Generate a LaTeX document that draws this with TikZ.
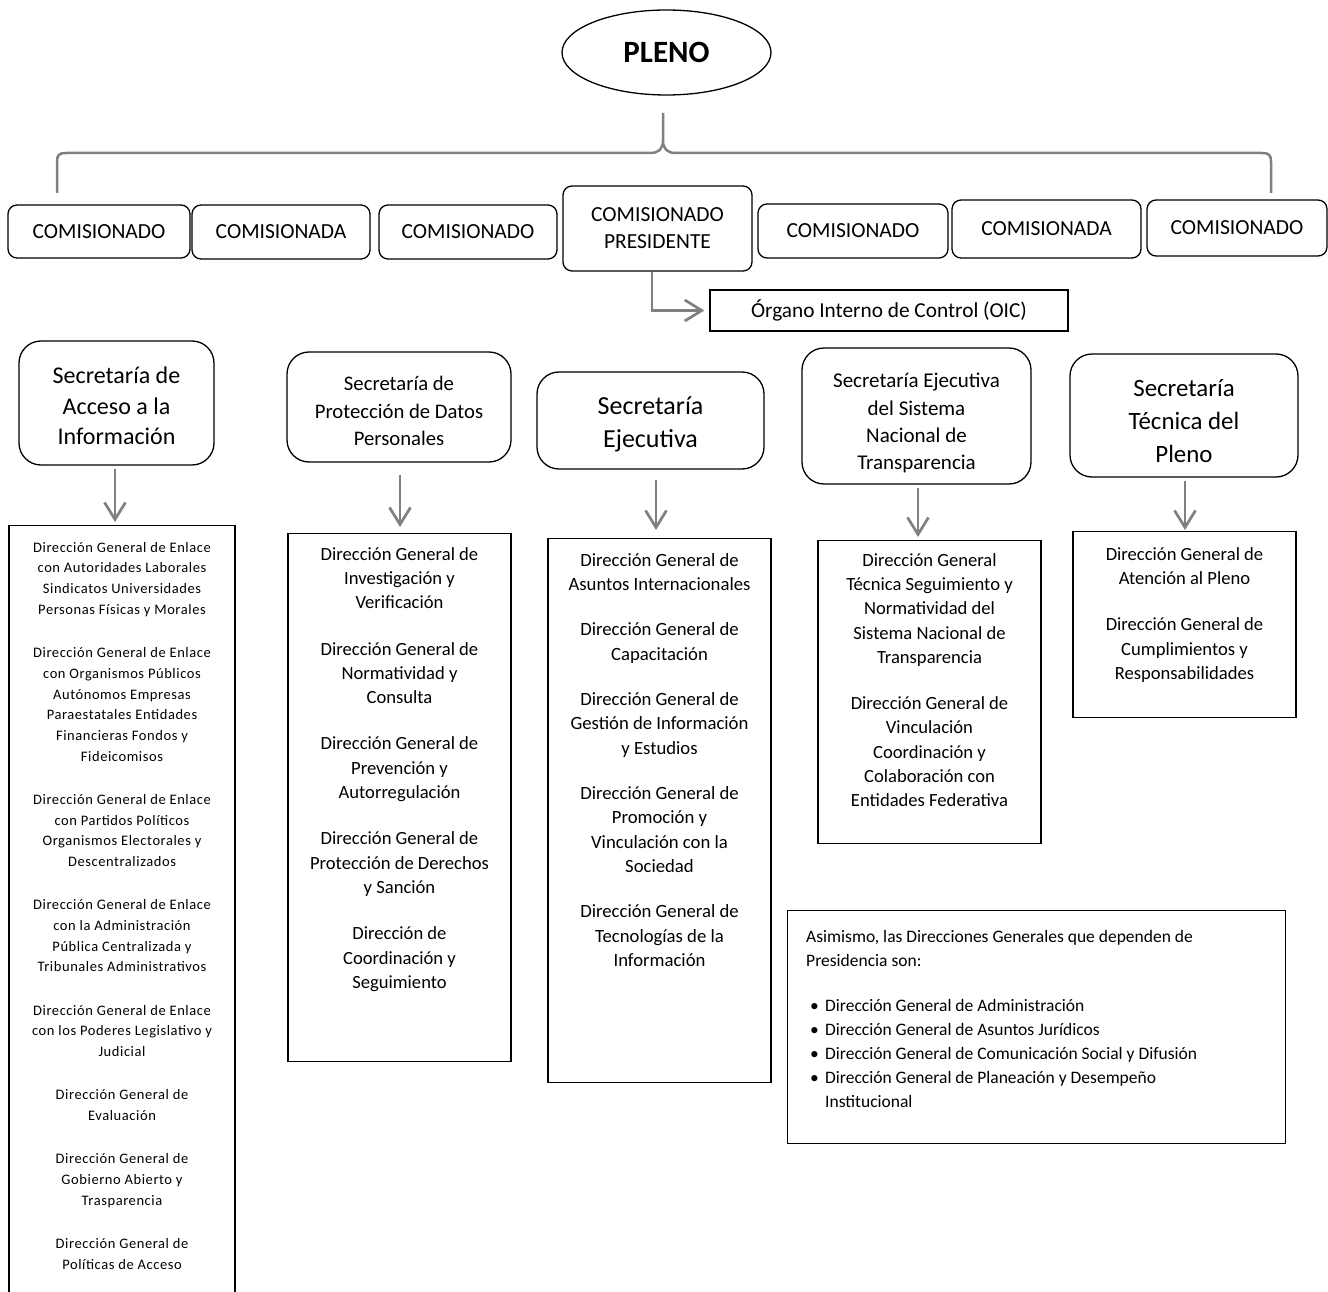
\documentclass[tikz,border=0pt]{standalone}
\usepackage{fontspec}
\setmainfont{Carlito}
\newfontfamily\chica[LetterSpace=4.0]{Carlito}
\usetikzlibrary{arrows.meta,positioning,shapes}
\definecolor{grislinea}{RGB}{128,128,128}
\newcommand{\vineta}{\makebox[19pt][l]{\hspace{4pt}\textbullet}}
\newcommand{\alto}[1]{\rule{0pt}{#1}}

\begin{document}
\begin{tikzpicture}[x=1pt,y=-1pt] % medidas en pixeles de la imagen
\tikzstyle{comi}=[draw, line width=1.3pt, rounded corners=9pt, align=center, inner sep=0pt, font=\fontsize{21.5}{27}\selectfont]
\tikzstyle{secre}=[draw, line width=1.3pt, rounded corners=22pt, align=center, inner sep=0pt]
\tikzstyle{lista}=[draw, line width=1.3pt, inner sep=0pt, anchor=north]
\tikzstyle{txt}=[align=center, inner sep=0pt, anchor=north, font=\fontsize{18.6}{24.3}\selectfont]
\tikzstyle{flecha}=[draw=grislinea, line width=2.7pt, -{Straight Barb[length=17pt,width=21pt]}]
\tikzstyle{llave}=[draw=grislinea, line width=2.5pt]

\useasboundingbox (0,0) rectangle (1328,1292);
\clip (0,0) rectangle (1328,1292);

\node[ellipse, draw, line width=1.3pt, minimum width=209pt, minimum height=85pt, inner sep=0pt,
  font=\bfseries\fontsize{31}{37}\selectfont] (pleno) at (666.5,52.5) {PLENO};

\node[comi, minimum width=182pt, minimum height=53pt] (c1) at (99,231.5) {COMISIONADO};
\node[comi, minimum width=178pt, minimum height=54pt] (c2) at (281,232) {COMISIONADA};
\node[comi, minimum width=178pt, minimum height=54pt] (c3) at (468,232) {COMISIONADO};
\node[comi, minimum width=189pt, minimum height=85pt] (c4) at (657.5,228.5) {COMISIONADO\\PRESIDENTE};
\node[comi, minimum width=190pt, minimum height=54pt] (c5) at (853,231) {COMISIONADO};
\node[comi, minimum width=189pt, minimum height=58pt] (c6) at (1046.5,229) {COMISIONADA};
\node[comi, minimum width=180pt, minimum height=56pt] (c7) at (1237,228) {COMISIONADO};

\node[draw, line width=1.3pt, minimum width=358pt, minimum height=41pt, inner sep=0pt,
  font=\fontsize{21.3}{26}\selectfont] (oic) at (889,310.5) {Órgano Interno de Control (OIC)};

\node[secre, minimum width=195pt, minimum height=124pt, font=\fontsize{24}{30.5}\selectfont] (s1) at (116.5,403)
  {\alto{23pt}Secretaría de\\Acceso a la\\Información};
\node[secre, minimum width=224pt, minimum height=110pt, font=\fontsize{20.7}{27.5}\selectfont] (s2) at (399,407)
  {\alto{22.5pt}Secretaría de\\Protección de Datos\\Personales};
\node[secre, minimum width=227pt, minimum height=97pt, font=\fontsize{26}{33}\selectfont] (s3) at (650.5,420.5)
  {\alto{26pt}Secretaría\\Ejecutiva};
\node[secre, minimum width=229pt, minimum height=136pt, font=\fontsize{21}{27.3}\selectfont] (s4) at (916.5,416)
  {\alto{28.8pt}Secretaría Ejecutiva\\del Sistema\\Nacional de\\Transparencia};
\node[secre, minimum width=228pt, minimum height=123pt, font=\fontsize{24.9}{33}\selectfont] (s5) at (1184,415.5)
  {\alto{28pt}Secretaría\\Técnica del\\Pleno};

\node[lista, minimum width=226pt, minimum height=800pt] (l1) at (122,525) {};
\node[lista, minimum width=223pt, minimum height=528pt] (l2) at (399.5,533) {};
\node[lista, minimum width=223pt, minimum height=544pt] (l3) at (659.5,538) {};
\node[lista, minimum width=223pt, minimum height=303pt] (l4) at (929.5,540) {};
\node[lista, minimum width=223pt, minimum height=186pt] (l5) at (1184.5,531) {};

\node[txt, below=17pt of l1.north, font=\chica\fontsize{14.5}{20.7}\selectfont] (t1) {%
  Dirección General de Enlace\\con Autoridades Laborales\\Sindicatos Universidades\\Personas Físicas y Morales\\[22.6pt]
  Dirección General de Enlace\\con Organismos Públicos\\Autónomos Empresas\\Paraestatales Entidades\\Financieras Fondos y\\Fideicomisos\\[22.6pt]
  Dirección General de Enlace\\con Partidos Políticos\\Organismos Electorales y\\Descentralizados\\[22.6pt]
  Dirección General de Enlace\\con la Administración\\Pública Centralizada y\\Tribunales Administrativos\\[22.6pt]
  Dirección General de Enlace\\con los Poderes Legislativo y\\Judicial\\[22.6pt]
  Dirección General de\\Evaluación\\[22.6pt]
  Dirección General de\\Gobierno Abierto y\\Trasparencia\\[22.6pt]
  Dirección General de\\Políticas de Acceso};
\node[txt, below=14pt of l2.north] (t2) {%
  Dirección General de\\Investigación y\\Verificación\\[22pt]
  Dirección General de\\Normatividad y\\Consulta\\[22pt]
  Dirección General de\\Prevención y\\Autorregulación\\[22pt]
  Dirección General de\\Protección de Derechos\\y Sanción\\[22pt]
  Dirección de\\Coordinación y\\Seguimiento};
\node[txt, below=15pt of l3.north, font=\fontsize{18.7}{24.5}\selectfont] (t3) {%
  Dirección General de\\Asuntos Internacionales\\[20.5pt]
  Dirección General de\\Capacitación\\[20.5pt]
  Dirección General de\\Gestión de Información\\y Estudios\\[20.5pt]
  Dirección General de\\Promoción y\\Vinculación con la\\Sociedad\\[20.5pt]
  Dirección General de\\Tecnologías de la\\Información};
\node[txt, below=13pt of l4.north] (t4) {%
  Dirección General\\Técnica Seguimiento y\\Normatividad del\\Sistema Nacional de\\Transparencia\\[22pt]
  Dirección General de\\Vinculación\\Coordinación y\\Colaboración con\\Entidades Federativa};
\node[txt, below=16pt of l5.north] (t5) {%
  Dirección General de\\Atención al Pleno\\[22pt]
  Dirección General de\\Cumplimientos y\\Responsabilidades};

\node[draw, line width=1.3pt, minimum width=498pt, minimum height=233pt, anchor=north west, inner sep=0pt] (nota) at (787,910) {};
\node[below right=20pt and 19pt of nota.north west, align=left, inner sep=0pt, font=\fontsize{17.5}{24}\selectfont] (tnota) {%
  Asimismo, las Direcciones Generales que dependen de\\Presidencia son:\\[21pt]
  \vineta Dirección General de Administración\\
  \vineta Dirección General de Asuntos Jurídicos\\
  \vineta Dirección General de Comunicación Social y Difusión\\
  \vineta Dirección General de Planeación y Desempeño\\
  \hspace*{19pt}Institucional};

% llave del pleno a los comisionados
\coordinate (bi) at (57,193);
\coordinate (bd) at (1271,193);
\coordinate (bc) at (663,113);
\draw[llave] (bi) -- (57,162) .. controls (57,155) and (59,153) .. (66,153) -- (650,153)
  .. controls (659,153) and (663,149) .. (663,140) -- (bc)
  (663,140) .. controls (663,149) and (667,153) .. (676,153) -- (1262,153)
  .. controls (1269,153) and (1271,155) .. (1271,162) -- (bd);

\draw[flecha, shorten >=5pt] ([xshift=-5.5pt]c4.south) |- (oic.west);

\draw[flecha, shorten <=3pt, shorten >=3pt] ([xshift=-1.5pt]s1.south) -- ([xshift=-1.5pt]s1.south |- l1.north);
\draw[flecha, shorten <=12pt, shorten >=6pt] ([xshift=1pt]s2.south) -- ([xshift=1pt]s2.south |- l2.north);
\draw[flecha, shorten <=10pt, shorten >=8pt] ([xshift=5.5pt]s3.south) -- ([xshift=5.5pt]s3.south |- l3.north);
\draw[flecha, shorten <=3pt, shorten >=3pt] ([xshift=1.5pt]s4.south) -- ([xshift=1.5pt]s4.south |- l4.north);
\draw[flecha, shorten <=3pt, shorten >=1pt] ([xshift=1pt]s5.south) -- ([xshift=1pt]s5.south |- l5.north);
\end{tikzpicture}
\end{document}
